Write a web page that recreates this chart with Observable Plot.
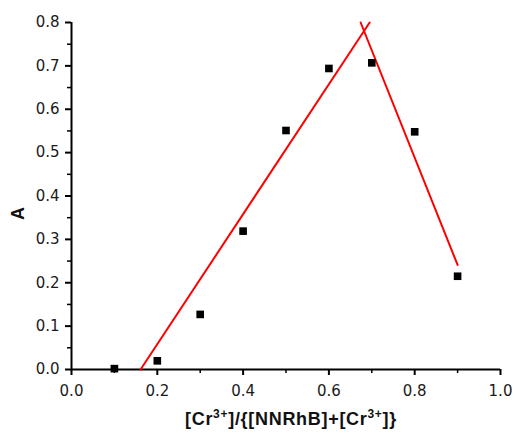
<!DOCTYPE html>
<html><head><meta charset="utf-8">
<script src="https://cdn.jsdelivr.net/npm/d3@7"></script>
<script src="https://cdn.jsdelivr.net/npm/@observablehq/plot@0.6"></script>
<style>body{margin:0;background:#fff;}</style>
</head><body><div id="chart"></div>
<script>
const ratio = [0.1, 0.2, 0.3, 0.4, 0.5, 0.6, 0.7, 0.8, 0.9];
const absorbance = [0.002, 0.020, 0.127, 0.319, 0.551, 0.694, 0.707, 0.548, 0.215];
const fitLeftX = [0.161, 0.695];
const fitLeftY = [0.0, 0.80];
const fitRightX = [0.674, 0.90];
const fitRightY = [0.80, 0.241];
const xMajorTicks = [0.0, 0.2, 0.4, 0.6, 0.8, 1.0];
const xMinorTicks = [0.1, 0.3, 0.5, 0.7, 0.9];
const yMajorTicks = [0.0, 0.1, 0.2, 0.3, 0.4, 0.5, 0.6, 0.7, 0.8];
const yMinorTicks = [0.05, 0.15, 0.25, 0.35, 0.45, 0.55, 0.65, 0.75];
const yLabel = "A";

const points = ratio.map((r, i) => ({x: r, y: absorbance[i]}));
const left = fitLeftX.map((x, i) => ({x, y: fitLeftY[i]}));
const right = fitRightX.map((x, i) => ({x, y: fitRightY[i]}));

const plot = Plot.plot({
  width: 516, height: 439,
  marginTop: 22, marginBottom: 70, marginLeft: 71, marginRight: 16,
  style: {fontFamily: "'DejaVu Sans', sans-serif", fontSize: "15px", color: "#000", background: "#fff", overflow: "visible"},
  x: {domain: [0, 1]},
  y: {domain: [0, 0.8]},
  marks: [
    Plot.axisX(xMinorTicks, {tickSize: 4, text: null, strokeWidth: 1.5, label: null}),
    Plot.axisX(xMajorTicks, {tickSize: 6, tickPadding: 9.5, tickFormat: d3.format(".1f"), strokeWidth: 2, fill: "#1a1a1a", label: null}),
    Plot.axisY(yMinorTicks, {tickSize: 4, text: null, strokeWidth: 1.5, label: null}),
    Plot.axisY(yMajorTicks, {tickSize: 6, tickPadding: 6, tickFormat: d3.format(".1f"), strokeWidth: 2, fill: "#1a1a1a", label: null}),
    Plot.ruleX([0], {stroke: "#000", strokeWidth: 2}),
    Plot.ruleY([0], {stroke: "#000", strokeWidth: 2}),
    Plot.line(left, {x: "x", y: "y", stroke: "#ff0000", strokeWidth: 2}),
    Plot.line(right, {x: "x", y: "y", stroke: "#ff0000", strokeWidth: 2}),
    Plot.dot(points, {x: "x", y: "y", symbol: "square", r: 4.3, fill: "#000", stroke: null}),
    Plot.text([yLabel], {frameAnchor: "left", dx: -53, dy: 24, rotate: -90, text: d => d, fontFamily: "'Liberation Sans', Arial, sans-serif", fontWeight: "bold", fontSize: 18, fill: "#111"})
  ]
});

// x-axis label with superscripts
const svg = d3.select(plot);
const t = svg.append("text")
  .attr("x", 291)
  .attr("y", 425)
  .attr("text-anchor", "middle")
  .attr("font-family", "'Liberation Sans', Arial, sans-serif")
  .attr("font-weight", "bold")
  .attr("font-size", 18)
  .attr("letter-spacing", "0.7px")
  .attr("fill", "#111");
const parts = [["[Cr", 0], ["3+", 1], ["]/{[NNRhB]+[Cr", 0], ["3+", 1], ["]}", 0]];
parts.forEach(([s, sup]) => {
  const ts = t.append("tspan").text(s);
  if (sup) ts.attr("baseline-shift", "super").attr("font-size", 12);
});
document.getElementById("chart").appendChild(plot);
</script>
</body></html>
